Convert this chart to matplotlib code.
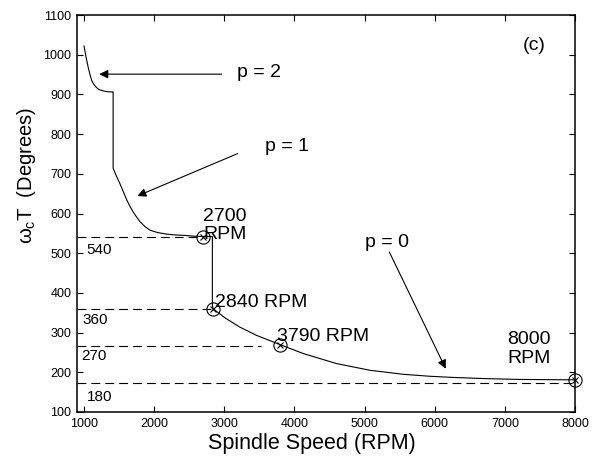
import matplotlib
matplotlib.use("Agg")
import matplotlib.pyplot as plt

plt.rcParams['font.family'] = ['Liberation Sans', 'DejaVu Sans']
plt.rcParams['mathtext.fontset'] = 'custom'
plt.rcParams['mathtext.rm'] = 'Liberation Sans'
plt.rcParams['mathtext.it'] = 'Liberation Sans'
plt.rcParams['mathtext.bf'] = 'Liberation Sans:bold'

# ---- data ----
curve_rpm = [1000, 1030, 1060, 1085, 1110, 1140, 1180, 1215, 1250, 1320, 1410, 1415,
             1415, 1460, 1510, 1560, 1610, 1655, 1700, 1750, 1800, 1870, 1940, 2050,
             2180, 2300, 2420, 2560, 2700,
             2830, 2830, 2840,
             3020, 3220, 3460, 3790, 4130, 4600, 5080, 5550, 5930, 6270, 6740, 7220, 7600, 8000]
curve_deg = [1022, 993, 968, 950, 935, 925, 917, 912, 910, 907, 906, 906,
             714, 695, 676, 655, 634, 618, 604, 591, 579, 567, 558, 552,
             548, 546, 545, 543, 542,
             542, 369, 360,
             336, 314, 293, 270, 247, 222, 205, 195, 190, 187, 184, 182, 181.5, 181]

marker_rpm = [2700, 2840, 3790, 8000]
marker_deg = [542, 360, 270, 181]
marker_labels = ["2700\nRPM", "2840 RPM", "3790 RPM", "8000\nRPM"]
marker_label_pos = [(2701, 570), (2867, 377), (3747, 291), (7035, 258)]

level_deg = [541, 360, 266, 174]
level_end_rpm = [2700, 2840, 3520, 8000]
level_labels = ["540", "360", "270", "180"]
level_label_pos = [(1038, 507), (981, 331), (967, 240), (1047, 138)]

p_labels = ["p = 2", "p = 1", "p = 0"]
p_label_pos = [(3177, 956), (3580, 768), (5006, 528)]
p_arrow_tail = [(2963, 951), (3191, 751), (5353, 503)]
p_arrow_head = [(1218, 951), (1760, 644), (6157, 209)]

xticks = [1000, 2000, 3000, 4000, 5000, 6000, 7000, 8000]
yticks = [100, 200, 300, 400, 500, 600, 700, 800, 900, 1000, 1100]

# ---- figure ----
fig = plt.figure(figsize=(5.92, 4.57), dpi=100)
ax = fig.add_axes([77/592, 1-412/457, (575-77)/592, (412-15)/457])

for lv, end in zip(level_deg, level_end_rpm):
    ax.plot([900, end], [lv, lv], color='black', lw=0.8,
            linestyle=(0, (8, 4.5)), zorder=2)

ax.plot(curve_rpm, curve_deg, color='black', lw=0.8, zorder=3)
ax.plot(marker_rpm, marker_deg, linestyle='none', marker='o', ms=9.5,
        mfc='none', mec='black', mew=0.8, zorder=4, clip_on=False)
ax.plot(marker_rpm, marker_deg, linestyle='none', marker='x', ms=4.5,
        mec='black', mew=0.8, zorder=4, clip_on=False)

for txt, (x, y) in zip(marker_labels, marker_label_pos):
    ax.text(x, y, txt, fontsize=14, ha='left', va='center', linespacing=1.12)

for txt, (x, y) in zip(level_labels, level_label_pos):
    ax.text(x, y, txt, fontsize=11, ha='left', va='center')

for txt, (x, y), tail, head in zip(p_labels, p_label_pos, p_arrow_tail, p_arrow_head):
    ax.text(x, y, txt, fontsize=14, ha='left', va='center')
    ax.annotate('', xy=head, xytext=tail,
                arrowprops=dict(arrowstyle='-|>', color='black', lw=0.8,
                                mutation_scale=13, shrinkA=0, shrinkB=0))

ax.text(7250, 1024, "(c)", fontsize=14, ha='left', va='center')

ax.set_xlim(900, 8000)
ax.set_ylim(100, 1100)
ax.set_xticks(xticks)
ax.set_yticks(yticks)
ax.tick_params(direction='in', length=4, width=0.8, labelsize=9,
               top=True, right=True, pad=4)
for s in ax.spines.values():
    s.set_linewidth(1.1)

fig.text(312/592, 1-443/457, "Spindle Speed (RPM)", fontsize=15.5,
         ha='center', va='center')
fig.text(27/592, 1-176/457, r"$\omega_c$T  (Degrees)", fontsize=14.5,
         ha='center', va='center', rotation=90)

fig.savefig("out.png", dpi=100)
